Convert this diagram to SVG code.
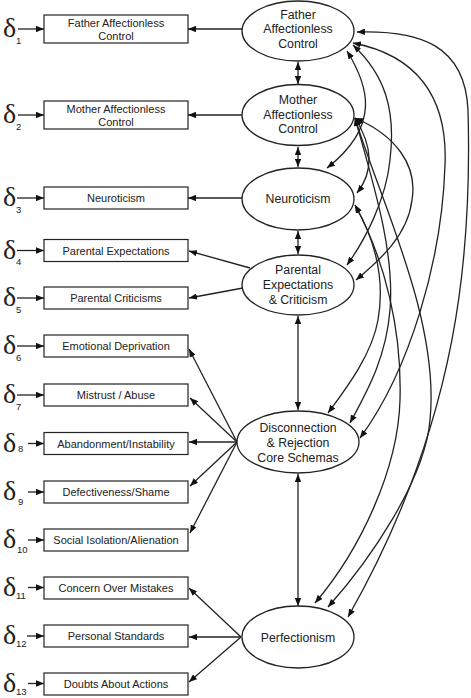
<svg xmlns="http://www.w3.org/2000/svg" width="471" height="698" viewBox="0 0 471 698">
<style>
.bx{fill:#fff;stroke:#222;stroke-width:1.2}
.el{fill:#fff;stroke:#222;stroke-width:1.3}
.bt{font-family:"Liberation Sans",Arial,sans-serif;font-size:11px;fill:#222;text-anchor:middle}
.et{font-family:"Liberation Sans",Arial,sans-serif;font-size:12.3px;fill:#222;text-anchor:middle}
.d{font-family:"Liberation Serif","Times New Roman",serif;font-size:28px;fill:#222}
.s{font-family:"Liberation Sans",Arial,sans-serif;font-size:9.5px;fill:#222}
.c{fill:none;stroke:#222;stroke-width:1.3}
.a1{marker-end:url(#ah)}
.a2{marker-start:url(#ah);marker-end:url(#ah)}
</style>
<defs>
<marker id="ah" viewBox="0 0 10 8" refX="10" refY="4" markerWidth="8" markerHeight="6.4" markerUnits="userSpaceOnUse" orient="auto-start-reverse"><path d="M0,0 L10,4 L0,8 z" fill="#111"/></marker>
</defs>
<rect width="471" height="698" fill="#fff"/>

<g id="errors">
<text class="d" x="3" y="37">δ</text><text class="s" x="16" y="43.5">1</text>
<text class="d" x="3" y="123">δ</text><text class="s" x="16" y="129.5">2</text>
<text class="d" x="3" y="206">δ</text><text class="s" x="16" y="212.5">3</text>
<text class="d" x="3" y="258.5">δ</text><text class="s" x="16" y="265">4</text>
<text class="d" x="3" y="306">δ</text><text class="s" x="16" y="312.5">5</text>
<text class="d" x="3" y="354">δ</text><text class="s" x="16" y="361">6</text>
<text class="d" x="3" y="403">δ</text><text class="s" x="16" y="409.5">7</text>
<text class="d" x="3" y="451.5">δ</text><text class="s" x="18" y="452">8</text>
<text class="d" x="3" y="500">δ</text><text class="s" x="18" y="505">9</text>
<text class="d" x="3" y="548">δ</text><text class="s" x="17" y="553">10</text>
<text class="d" x="3" y="595.5">δ</text><text class="s" x="16" y="598.5">11</text>
<text class="d" x="3" y="644">δ</text><text class="s" x="16" y="647">12</text>
<text class="d" x="3" y="691.5">δ</text><text class="s" x="16" y="695">13</text>
</g>

<g id="box-father"><rect class="bx" x="44" y="15" width="144" height="28"/><text class="bt" x="116" y="26.5">Father Affectionless</text><text class="bt" x="116" y="40">Control</text></g>
<g id="box-mother"><rect class="bx" x="44" y="101" width="144" height="28"/><text class="bt" x="116" y="112.5">Mother Affectionless</text><text class="bt" x="116" y="126">Control</text></g>
<g id="box-neuro"><rect class="bx" x="44" y="187" width="144" height="22"/><text class="bt" x="116" y="202">Neuroticism</text></g>
<g id="box-pe"><rect class="bx" x="44" y="239.5" width="144" height="22"/><text class="bt" x="116" y="254.5">Parental Expectations</text></g>
<g id="box-pc"><rect class="bx" x="44" y="287" width="144" height="22"/><text class="bt" x="116" y="302">Parental Criticisms</text></g>
<g id="box-ed"><rect class="bx" x="44" y="335" width="144" height="22"/><text class="bt" x="116" y="350">Emotional Deprivation</text></g>
<g id="box-ma"><rect class="bx" x="44" y="384" width="144" height="22"/><text class="bt" x="116" y="399">Mistrust / Abuse</text></g>
<g id="box-ai"><rect class="bx" x="44" y="432.5" width="144" height="22"/><text class="bt" x="116" y="447.5">Abandonment/Instability</text></g>
<g id="box-ds"><rect class="bx" x="44" y="481" width="144" height="22"/><text class="bt" x="116" y="496">Defectiveness/Shame</text></g>
<g id="box-si"><rect class="bx" x="44" y="529" width="144" height="22"/><text class="bt" x="116" y="544">Social Isolation/Alienation</text></g>
<g id="box-co"><rect class="bx" x="44" y="577" width="144" height="22"/><text class="bt" x="116" y="592">Concern Over Mistakes</text></g>
<g id="box-ps"><rect class="bx" x="44" y="625" width="144" height="22"/><text class="bt" x="116" y="640">Personal Standards</text></g>
<g id="box-da"><rect class="bx" x="44" y="673" width="144" height="22"/><text class="bt" x="116" y="688">Doubts About Actions</text></g>

<g id="connectors">
<path class="c a1" d="M18,29 H44"/>
<path class="c a1" d="M18,115 H44"/>
<path class="c a1" d="M17,198 H44"/>
<path class="c a1" d="M17,250.5 H44"/>
<path class="c a1" d="M17,298 H44"/>
<path class="c a1" d="M17,346 H44"/>
<path class="c a1" d="M17,395 H44"/>
<path class="c a1" d="M28,443.5 H44"/>
<path class="c a1" d="M28,492 H44"/>
<path class="c a1" d="M28,540 H44"/>
<path class="c a1" d="M28,587.5 H44"/>
<path class="c a1" d="M27,636 H44"/>
<path class="c a1" d="M28,683.5 H44"/>
<path class="c a1" d="M242,29 H188"/>
<path class="c a1" d="M242,115 H188"/>
<path class="c a1" d="M242,198 H188"/>
<path class="c a1" d="M250,268 L189,251"/>
<path class="c a1" d="M243,288 L189,298"/>
<path class="c a1" d="M237,442 L189,349"/>
<path class="c a1" d="M237,442 L190,398"/>
<path class="c a1" d="M237,442 H189"/>
<path class="c a1" d="M237,442 L190,486"/>
<path class="c a1" d="M237,442 L190,533"/>
<path class="c a1" d="M241,637 L189,588"/>
<path class="c a1" d="M241,637 H189"/>
<path class="c a1" d="M241,637 L189,682"/>
<path class="c a2" d="M298,62 V84"/>
<path class="c a2" d="M298,147 V167"/>
<path class="c a2" d="M298,231 V254"/>
<path class="c a2" d="M298,316 V410"/>
<path class="c a2" d="M298,474 V606"/>
<path class="c a2" d="M357,32 C420,30 465,45 468,110 C472,250 460,420 348,617"/>
<path class="c a2" d="M353,43 C415,55 448,95 445,165 C442,260 410,370 360,438"/>
<path class="c a2" d="M353,45 C385,75 396,110 390,160 C386,200 365,240 347,265"/>
<path class="c a2" d="M347,51 C368,85 382,125 327,168"/>
<path class="c a2" d="M355,118 C372,145 375,170 357,193"/>
<path class="c a2" d="M355,118 C395,135 418,165 412,200 C408,235 380,260 356,280"/>
<path class="c a2" d="M355,118 C380,200 440,320 430,420 C425,480 370,560 328,607"/>
<path class="c a2" d="M355,118 C372,180 395,250 390,310 C386,360 365,395 350,423"/>
<path class="c a2" d="M355,205 C375,240 385,280 378,320 C372,355 345,390 328,413"/>
<path class="c a2" d="M355,205 C385,260 402,330 400,400 C398,470 360,550 315,603"/>
</g>

<g id="father"><ellipse class="el" cx="298" cy="31" rx="56" ry="30"/><text class="et" x="298" y="18.5">Father</text><text class="et" x="298" y="33">Affectionless</text><text class="et" x="298" y="47.5">Control</text></g>
<g id="mother"><ellipse class="el" cx="298" cy="115" rx="56" ry="30.5"/><text class="et" x="298" y="103.5">Mother</text><text class="et" x="298" y="118.5">Affectionless</text><text class="et" x="298" y="132.5">Control</text></g>
<g id="neuroticism"><ellipse class="el" cx="298" cy="199" rx="56" ry="31"/><text class="et" x="298" y="202.5">Neuroticism</text></g>
<g id="pec"><ellipse class="el" cx="298" cy="285" rx="56" ry="30"/><text class="et" x="298" y="274">Parental</text><text class="et" x="298" y="289">Expectations</text><text class="et" x="298" y="304">&amp; Criticism</text></g>
<g id="disconnection"><ellipse class="el" cx="298" cy="442" rx="61" ry="31"/><text class="et" x="298" y="431.5">Disconnection</text><text class="et" x="298" y="446.5">&amp; Rejection</text><text class="et" x="298" y="462">Core Schemas</text></g>
<g id="perfectionism"><ellipse class="el" cx="298" cy="637" rx="56" ry="31"/><text class="et" x="298" y="641.5">Perfectionism</text></g>
</svg>
